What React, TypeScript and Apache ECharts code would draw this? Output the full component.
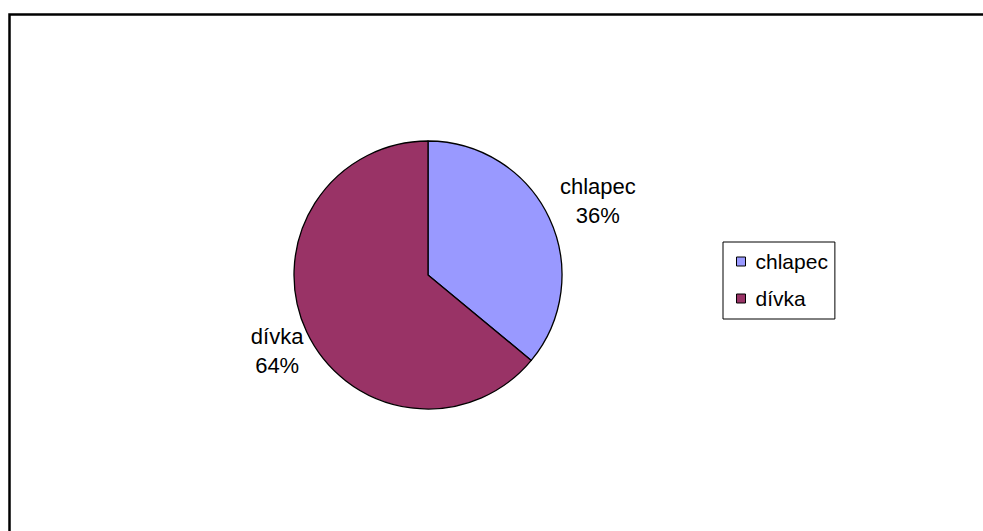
import React, { useEffect, useRef } from "react";
import * as echarts from "echarts";

const categories = ["chlapec", "dívka"];
const values = [36, 64];
const colors = ["#9999FF", "#993366"];

export default function App() {
  const ref = useRef<HTMLDivElement>(null);
  useEffect(() => {
    if (!ref.current) return;
    const chart = echarts.init(ref.current, undefined, { renderer: "svg" });
    const total = values.reduce((a, b) => a + b, 0);
    const cx = 428;
    const cy = 275;
    const r = 134;
    const font = 'Arial, "Liberation Sans", sans-serif';
    chart.setOption({
      animation: false,
      backgroundColor: "#ffffff",
      graphic: [
        {
          type: "rect",
          shape: { x: 9.5, y: 14.5, width: 1200, height: 800 },
          style: { fill: "none", stroke: "#000", lineWidth: 2.5 },
          silent: true,
        },
      ],
      legend: {
        orient: "vertical",
        left: 723,
        top: 242,
        padding: [9, 7, 10, 13],
        itemGap: 16,
        itemWidth: 9,
        itemHeight: 9,
        icon: "rect",
        borderColor: "#000",
        borderWidth: 1,
        data: categories,
        itemStyle: { borderColor: "#000", borderWidth: 1 },
        textStyle: {
          fontFamily: font,
          fontSize: 21,
          lineHeight: 20,
          color: "#000",
          padding: [0, 0, 0, 5],
        },
      },
      series: [
        {
          type: "pie",
          center: [cx, cy],
          radius: r,
          startAngle: 90,
          clockwise: true,
          silent: true,
          itemStyle: { borderColor: "#000", borderWidth: 1.3 },
          label: {
            show: true,
            position: "outside",
            fontFamily: font,
            fontSize: 22,
            lineHeight: 29,
            color: "#000",
            formatter: (p: any) => `${p.name}\n${Math.round(p.percent)}%`,
          },
          labelLine: { show: false },
          labelLayout: (params: any) => {
            const i = params.dataIndex;
            let before = 0;
            for (let k = 0; k < i; k++) before += values[k];
            const mid = ((before + values[i] / 2) / total) * Math.PI * 2;
            const dist = r * 1.31;
            return {
              x: cx + Math.sin(mid) * dist + (i === 0 ? 11 : 8),
              y: cy - Math.cos(mid) * dist + (i === 0 ? 1 : 1),
              align: "center",
              verticalAlign: "middle",
            };
          },
          data: categories.map((name, i) => ({
            name,
            value: values[i],
            itemStyle: { color: colors[i] },
          })),
        },
      ],
    });
    return () => chart.dispose();
  }, []);
  return (
    <div
      ref={ref}
      style={{ position: "fixed", left: 0, top: 0, width: 983, height: 531 }}
    />
  );
}
